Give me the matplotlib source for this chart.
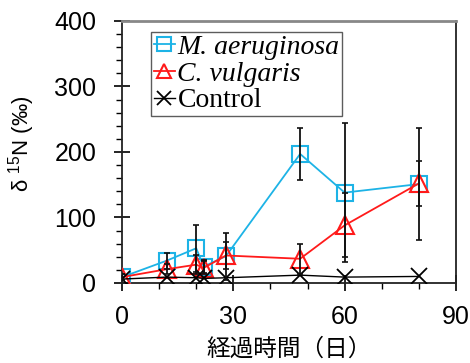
import matplotlib
matplotlib.use("Agg")
import matplotlib.pyplot as plt
from matplotlib.ticker import MultipleLocator

days = [0, 12, 20, 22, 28, 48, 60, 80]
m_aer = [9, 34, 53, 25, 41, 197, 138, 151]
m_aer_err = [4, 12, 36, 10, 36, 40, 106, 86]
c_vul = [9, 21, 28, 23, 42, 37, 88, 152]
c_vul_err = [4, 8, 15, 10, 20, 23, 49, 34]
control = [6, 9, 8, 7, 8, 12, 9, 10]

series_labels = ["M. aeruginosa", "C. vulgaris", "Control"]
xticks = [0, 30, 60, 90]
yticks = [0, 100, 200, 300, 400]
xlabel = "経過時間（日）"

cyan = "#1DB3E6"
red = "#FF1A1A"

plt.rcParams["mathtext.fontset"] = "custom"
plt.rcParams["mathtext.rm"] = "Liberation Sans"

fig = plt.figure(figsize=(4.7, 3.63), dpi=100)
ax = fig.add_axes([0.2596, 0.2204, 0.7106, 0.7218])

ax.plot(days, m_aer, color=cyan, lw=1.3, marker="s", ms=12, mfc="none",
        mec=cyan, mew=1.5, label=series_labels[0], zorder=3)
ax.plot(days, c_vul, color=red, lw=1.3, marker="^", ms=13, mfc="none",
        mec=red, mew=1.5, label=series_labels[1], zorder=3)
ax.plot(days, control, color="black", lw=1.0, marker="x", ms=12, mew=1.3,
        label=series_labels[2], zorder=3)

ax.errorbar(days, m_aer, yerr=m_aer_err, fmt="none", ecolor="#111111",
            elinewidth=1.3, capsize=2, capthick=1.2, zorder=4)
ax.errorbar(days, c_vul, yerr=c_vul_err, fmt="none", ecolor="#111111",
            elinewidth=1.3, capsize=2, capthick=1.2, zorder=4)

ax.set_xlim(0, 90)
ax.set_ylim(0, 400)
ax.set_xticks(xticks)
ax.set_yticks(yticks)
ax.xaxis.set_minor_locator(MultipleLocator(10))
ax.yaxis.set_minor_locator(MultipleLocator(20))
ax.tick_params(which="major", direction="inout", length=11, width=1.2,
               labelsize=18)
ax.tick_params(axis="x", which="major", pad=10)
ax.tick_params(axis="y", which="major", pad=13)
ax.tick_params(which="minor", direction="out", length=4.5, width=1.0)
for lab in ax.get_xticklabels() + ax.get_yticklabels():
    lab.set_fontfamily(["Liberation Sans", "DejaVu Sans"])

for s in ["left", "bottom", "right"]:
    ax.spines[s].set_color("#222222")
    ax.spines[s].set_linewidth(1.3)
ax.spines["top"].set_color("#888888")
ax.spines["top"].set_linewidth(2.0)

ax.set_xlabel(xlabel, fontsize=17, family=["Noto Sans CJK JP", "DejaVu Sans"])
ax.xaxis.set_label_coords(0.5, -0.21)
ax.set_ylabel("δ $^{15}$N (‰)", fontsize=16,
              family=["Liberation Sans", "DejaVu Sans"])
ax.yaxis.set_label_coords(-0.255, 0.53)

leg = ax.legend(loc="upper left", bbox_to_anchor=(0.087, 0.958),
                prop={"family": "Liberation Serif", "size": 20},
                frameon=True, fancybox=False, handlelength=0.75,
                handletextpad=0.1, borderpad=0.1, labelspacing=0.04,
                borderaxespad=0, markerscale=0.82)
leg.get_frame().set_edgecolor("#333333")
leg.get_frame().set_linewidth(1.0)
texts = leg.get_texts()
texts[0].set_fontstyle("italic")
texts[1].set_fontstyle("italic")

fig.savefig("out.png", dpi=100)
